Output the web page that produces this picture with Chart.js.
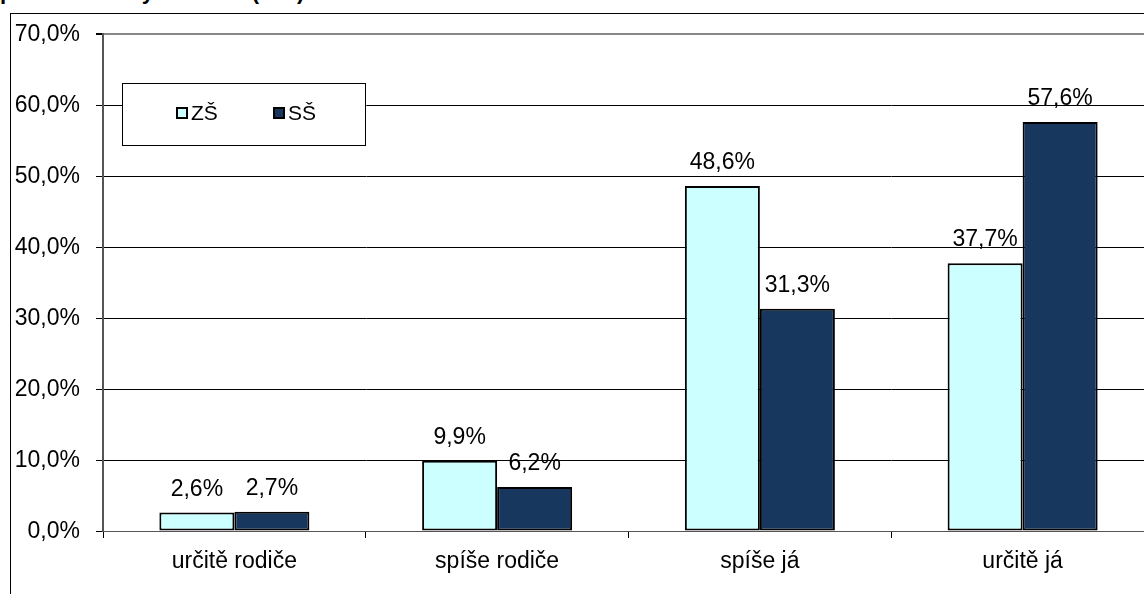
<!DOCTYPE html>
<html>
<head>
<meta charset="utf-8">
<script src="https://cdn.jsdelivr.net/npm/chart.js@4/dist/chart.umd.min.js"></script>
<style>
  html, body { margin: 0; padding: 0; background: #fff; overflow: hidden; width: 1144px; height: 594px; }
  #frame { position: absolute; left: 10px; top: 13px; width: 2000px; height: 2000px;
           border-left: 1px solid #000; border-top: 1px solid #000; }
  #title { position: absolute; left: 0; top: -19px; font: bold 22px "Liberation Sans", Arial, sans-serif;
           line-height: 22px; white-space: nowrap; }
  #chart { position: absolute; left: 0; top: 0; }
</style>
</head>
<body>
<div id="title">pomoc s úkoly v rodině (v %)</div>
<div id="frame"></div>
<canvas id="chart" width="1154" height="594" style="width:1154px;height:594px"></canvas>
<script>
const categories = ['určitě rodiče', 'spíše rodiče', 'spíše já', 'určitě já'];
const seriesNames = ['ZŠ', 'SŠ'];
const zsValues = [2.6, 9.9, 48.6, 37.7];
const ssValues = [2.7, 6.2, 31.3, 57.6];
const yTicks = [0, 10, 20, 30, 40, 50, 60, 70];

const FAMILY = '"Liberation Sans", Arial, sans-serif';
const colors = ['#CCFFFF', '#17375E'];

function pct(v) {
    return v.toFixed(1).replace('.', ',') + '%';
}

function text(ctx, str, x, y, align, baseline, size) {
    ctx.save();
    ctx.font = (size || 23) + 'px ' + FAMILY;
    ctx.fillStyle = '#000';
    ctx.textAlign = align;
    ctx.textBaseline = baseline;
    ctx.fillText(str, x, y);
    ctx.restore();
}

// axis labels, drawn from the chart's own scales
const axisLabels = {
    id: 'axisLabels',
    afterDraw(chart) {
        const ctx = chart.ctx;
        const ys = chart.scales.y, xs = chart.scales.x;
        ys.ticks.forEach(t => {
            text(ctx, pct(t.value), 80, ys.getPixelForValue(t.value) + 1, 'right', 'middle');
        });
        chart.data.labels.forEach((lab, i) => {
            text(ctx, lab, xs.getPixelForTick(i), xs.top + 37, 'center', 'alphabetic');
        });
    }
};

// value labels above the bars
const valueLabels = {
    id: 'valueLabels',
    afterDatasetsDraw(chart) {
        const ctx = chart.ctx;
        chart.data.datasets.forEach((ds, i) => {
            chart.getDatasetMeta(i).data.forEach((bar, j) => {
                text(ctx, pct(ds.data[j]), bar.x, bar.y - 17, 'center', 'alphabetic');
            });
        });
    }
};

// boxed legend inside the plot, like the excel one
const boxLegend = {
    id: 'boxLegend',
    afterDraw(chart) {
        const ctx = chart.ctx;
        const x = 122, y = 83, w = 243, h = 62;
        ctx.save();
        ctx.fillStyle = '#fff';
        ctx.fillRect(x, y, w, h);
        ctx.strokeStyle = '#000';
        ctx.lineWidth = 1;
        ctx.strokeRect(x + 0.5, y + 0.5, w, h);
        chart.data.datasets.forEach((ds, i) => {
            const sx = 177 + i * 97, sy = 108;
            ctx.fillStyle = ds.backgroundColor;
            ctx.fillRect(sx, sy, 10, 10);
            ctx.lineWidth = 2;
            ctx.strokeStyle = '#000';
            ctx.strokeRect(sx, sy, 10, 10);
            text(ctx, ds.label, sx + 14, sy + 6, 'left', 'middle', 21);
        });
        ctx.restore();
    }
};

new Chart(document.getElementById('chart'), {
    type: 'bar',
    data: {
        labels: categories,
        datasets: [
            { label: seriesNames[0], data: zsValues, backgroundColor: colors[0], borderColor: '#000', borderWidth: 2, borderSkipped: false },
            { label: seriesNames[1], data: ssValues, backgroundColor: colors[1], borderColor: '#000', borderWidth: 2, borderSkipped: false }
        ]
    },
    options: {
        responsive: false,
        animation: false,
        layout: { padding: { top: 34, left: 0, right: 0, bottom: 0 } },
        datasets: { bar: { categoryPercentage: 0.571, barPercentage: 1 } },
        plugins: {
            legend: { display: false },
            tooltip: { enabled: false }
        },
        scales: {
            x: {
                grid: { drawOnChartArea: false, drawTicks: true, tickLength: 7, color: '#000', offset: true },
                border: { color: '#555', width: 1 },
                ticks: { display: false },
                afterFit(scale) { scale.height = 63; }
            },
            y: {
                min: 0,
                max: 70,
                afterBuildTicks(scale) { scale.ticks = yTicks.map(v => ({ value: v })); },
                grid: {
                    color: c => c.tick && c.tick.value === 70 ? '#888' : '#000',
                    lineWidth: c => c.tick && c.tick.value === 70 ? 2 : 1,
                    tickColor: '#000',
                    tickLength: 7
                },
                border: { color: '#555', width: 2 },
                ticks: { display: false },
                afterFit(scale) { scale.width = 103; }
            }
        }
    },
    plugins: [valueLabels, axisLabels, boxLegend]
});
</script>
</body>
</html>
